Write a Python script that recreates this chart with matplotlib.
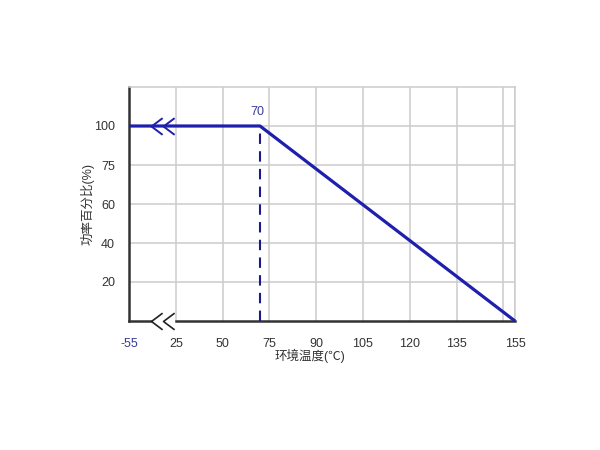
import numpy as np
import matplotlib
matplotlib.use("Agg")
import matplotlib.pyplot as plt
from matplotlib.path import Path

plt.rcParams['font.family'] = ['Liberation Sans', 'Noto Sans CJK SC', 'DejaVu Sans']

# data
temp_ticks = [-55, 25, 50, 75, 90, 105, 120, 135, 155]
temp_pos = [0, 1, 2, 3, 4, 5, 6, 7, 8.25]   # ticks sit on an even grid, 155 at the edge
pct_ticks = [20, 40, 60, 75, 100]
pct_vals = [0, 20, 40, 60, 75, 100, 125]
pct_pos = [0, 1, 2, 3, 4, 5, 6]

curve_temp = [-55, 70, 155]
curve_pct = [100, 100, 0]
knee_temp = 70
break_tips = [-17, 3]

blue = '#1f1fae'
navy = '#1a1a8c'
grid_c = '#cccccc'


def fx(t):
    return np.interp(t, temp_ticks, temp_pos)


def fx_inv(p):
    return np.interp(p, temp_pos, temp_ticks)


def fy(v):
    return np.interp(v, pct_vals, pct_pos)


def fy_inv(p):
    return np.interp(p, pct_pos, pct_vals)


fig = plt.figure(figsize=(6, 4.5), dpi=100)
ax = fig.add_axes([129 / 600, 1 - 321 / 450, (515 - 129) / 600, (321 - 87) / 450])
ax.set_xscale('function', functions=(fx, fx_inv))
ax.set_yscale('function', functions=(fy, fy_inv))
ax.set_xlim(-55, 155)
ax.set_ylim(0, 125)

ax.set_xticks(temp_ticks)
ax.set_xticklabels([str(t) for t in temp_ticks])
ax.set_xticks([fx_inv(8.0)], minor=True)
ax.set_yticks(pct_ticks)
ax.set_yticklabels([str(v) for v in pct_ticks])
ax.tick_params(axis='both', which='both', length=0, labelsize=9, colors='#333333')
ax.tick_params(axis='x', pad=12)
ax.tick_params(axis='y', pad=10)
ax.get_xticklabels()[0].set_color('#3a3a9a')

ax.grid(True, which='both', color=grid_c, linewidth=1.1)
ax.set_axisbelow(True)

for s in ['top', 'right']:
    ax.spines[s].set_color(grid_c)
    ax.spines[s].set_linewidth(1.1)
ax.spines['left'].set_color('#333333')
ax.spines['left'].set_linewidth(1.8)
ax.spines['bottom'].set_visible(False)

# broken bottom axis with chevrons
chev = Path([(1, 0.75), (0, 0), (1, -0.75)], [Path.MOVETO, Path.LINETO, Path.LINETO])
ax.plot([-55, break_tips[0]], [0, 0], color='#333333', lw=1.8, clip_on=False, zorder=3)
ax.plot([25, 155], [0, 0], color='#333333', lw=1.8, clip_on=False, zorder=3)
ax.plot(break_tips, [0, 0], linestyle='none', marker=chev, markersize=16,
        markerfacecolor='none', markeredgecolor='#222222', markeredgewidth=1.2, clip_on=False, zorder=3)

# derating curve
ax.plot(curve_temp, curve_pct, color=blue, lw=2.3, clip_on=False, zorder=4, solid_capstyle='butt')
ax.plot(break_tips, [100, 100], linestyle='none', marker=chev, markersize=16,
        markerfacecolor='none', markeredgecolor=blue, markeredgewidth=1.4, zorder=4)
ax.plot([knee_temp, knee_temp], [0, 100], color=navy, lw=1.5, dashes=(5, 3.5), zorder=4)
ax.annotate(str(knee_temp), (knee_temp, 100), xytext=(-2, 6), textcoords='offset points',
            ha='center', va='bottom', fontsize=9, color='#3a3a9a')

ax.set_xlabel('环境温度(℃)', fontsize=9, color='#333333')
ax.xaxis.set_label_coords(0.47, -0.12)
ax.set_ylabel('功率百分比(%)', fontsize=9, color='#333333')
ax.yaxis.set_label_coords(-0.09, 0.5)

fig.savefig('out.png', dpi=100)
